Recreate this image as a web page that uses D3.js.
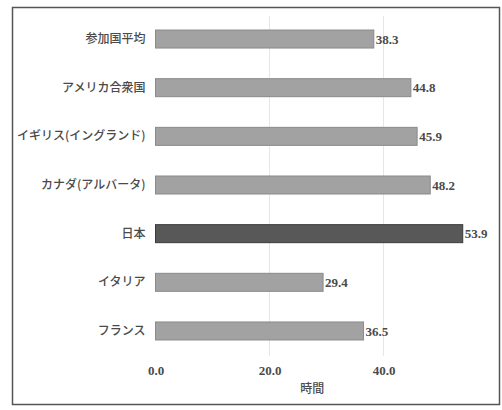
<!DOCTYPE html>
<html><head><meta charset="utf-8">
<script src="https://cdn.jsdelivr.net/npm/d3@7"></script>
<style>
html,body{margin:0;padding:0;background:#fff;}
svg{display:block;}
</style>
</head><body>
<svg id="c" width="502" height="410"></svg>
<script>
const categories = ["参加国平均","アメリカ合衆国","イギリス(イングランド)","カナダ(アルバータ)","日本","イタリア","フランス"];
const values = [38.3, 44.8, 45.9, 48.2, 53.9, 29.4, 36.5];
const highlight = ["日本"];
const tickValues = [0, 20, 40];
const axisTitle = "時間";

const svg = d3.select("#c");
// frame
svg.append("rect").attr("x",12.5).attr("y",7.5).attr("width",487).attr("height",397)
  .attr("fill","#fff").attr("stroke","#555").attr("stroke-width",1.5);

const x = d3.scaleLinear().domain([0,55]).range([155.5, 469]);
const y = d3.scaleBand().domain(categories).range([14.7, 355.3]).paddingInner(0.63).paddingOuter(0.315);

// gridlines
svg.append("g").selectAll("line").data(tickValues.filter(d=>d>0)).join("line")
  .attr("x1",d=>x(d)).attr("x2",d=>x(d)).attr("y1",16).attr("y2",356)
  .attr("stroke","#e6e6e6").attr("stroke-width",1);

// bars
svg.append("g").selectAll("rect").data(categories).join("rect")
  .attr("x",x(0)).attr("y",d=>y(d))
  .attr("width",(d,i)=>x(values[i])-x(0)).attr("height",y.bandwidth())
  .attr("fill",d=>highlight.includes(d)?"#585858":"#a2a2a2")
  .attr("stroke",d=>highlight.includes(d)?"#3a3a3a":"#8a8a8a").attr("stroke-width",1);

// value labels
svg.append("g").selectAll("text").data(categories).join("text")
  .attr("x",(d,i)=>x(values[i])+2).attr("y",d=>y(d)+y.bandwidth()/2)
  .attr("dy","0.35em")
  .attr("font-family","'Liberation Serif','DejaVu Serif',serif").attr("font-weight","bold")
  .attr("font-size",13).attr("fill","#4a4a4a")
  .text((d,i)=>values[i].toFixed(1));

// category axis labels
const yAxis = d3.axisLeft(y).tickSize(0).tickPadding(10);
const ya = svg.append("g").attr("transform",`translate(${x(0)},0)`).call(yAxis);
ya.select(".domain").remove();
ya.selectAll("text").attr("font-family","'Noto Sans CJK JP',sans-serif").attr("font-weight","500")
  .attr("font-size",12).attr("fill","#4a4a4a");

// x axis
const xAxis = d3.axisBottom(x).tickValues(tickValues).tickSize(0).tickPadding(10).tickFormat(d3.format(".1f"));
const xa = svg.append("g").attr("transform","translate(0,356)").call(xAxis);
xa.select(".domain").remove();
xa.selectAll("text").attr("font-family","'Liberation Serif','DejaVu Serif',serif").attr("font-weight","bold")
  .attr("font-size",13).attr("fill","#4a4a4a");

svg.append("text").attr("x",(x.range()[0]+x.range()[1])/2).attr("y",389).attr("dy","0.35em")
  .attr("text-anchor","middle").attr("font-family","'Noto Sans CJK JP',sans-serif").attr("font-weight","500")
  .attr("font-size",12).attr("fill","#4a4a4a").text(axisTitle);
</script>
</body></html>
